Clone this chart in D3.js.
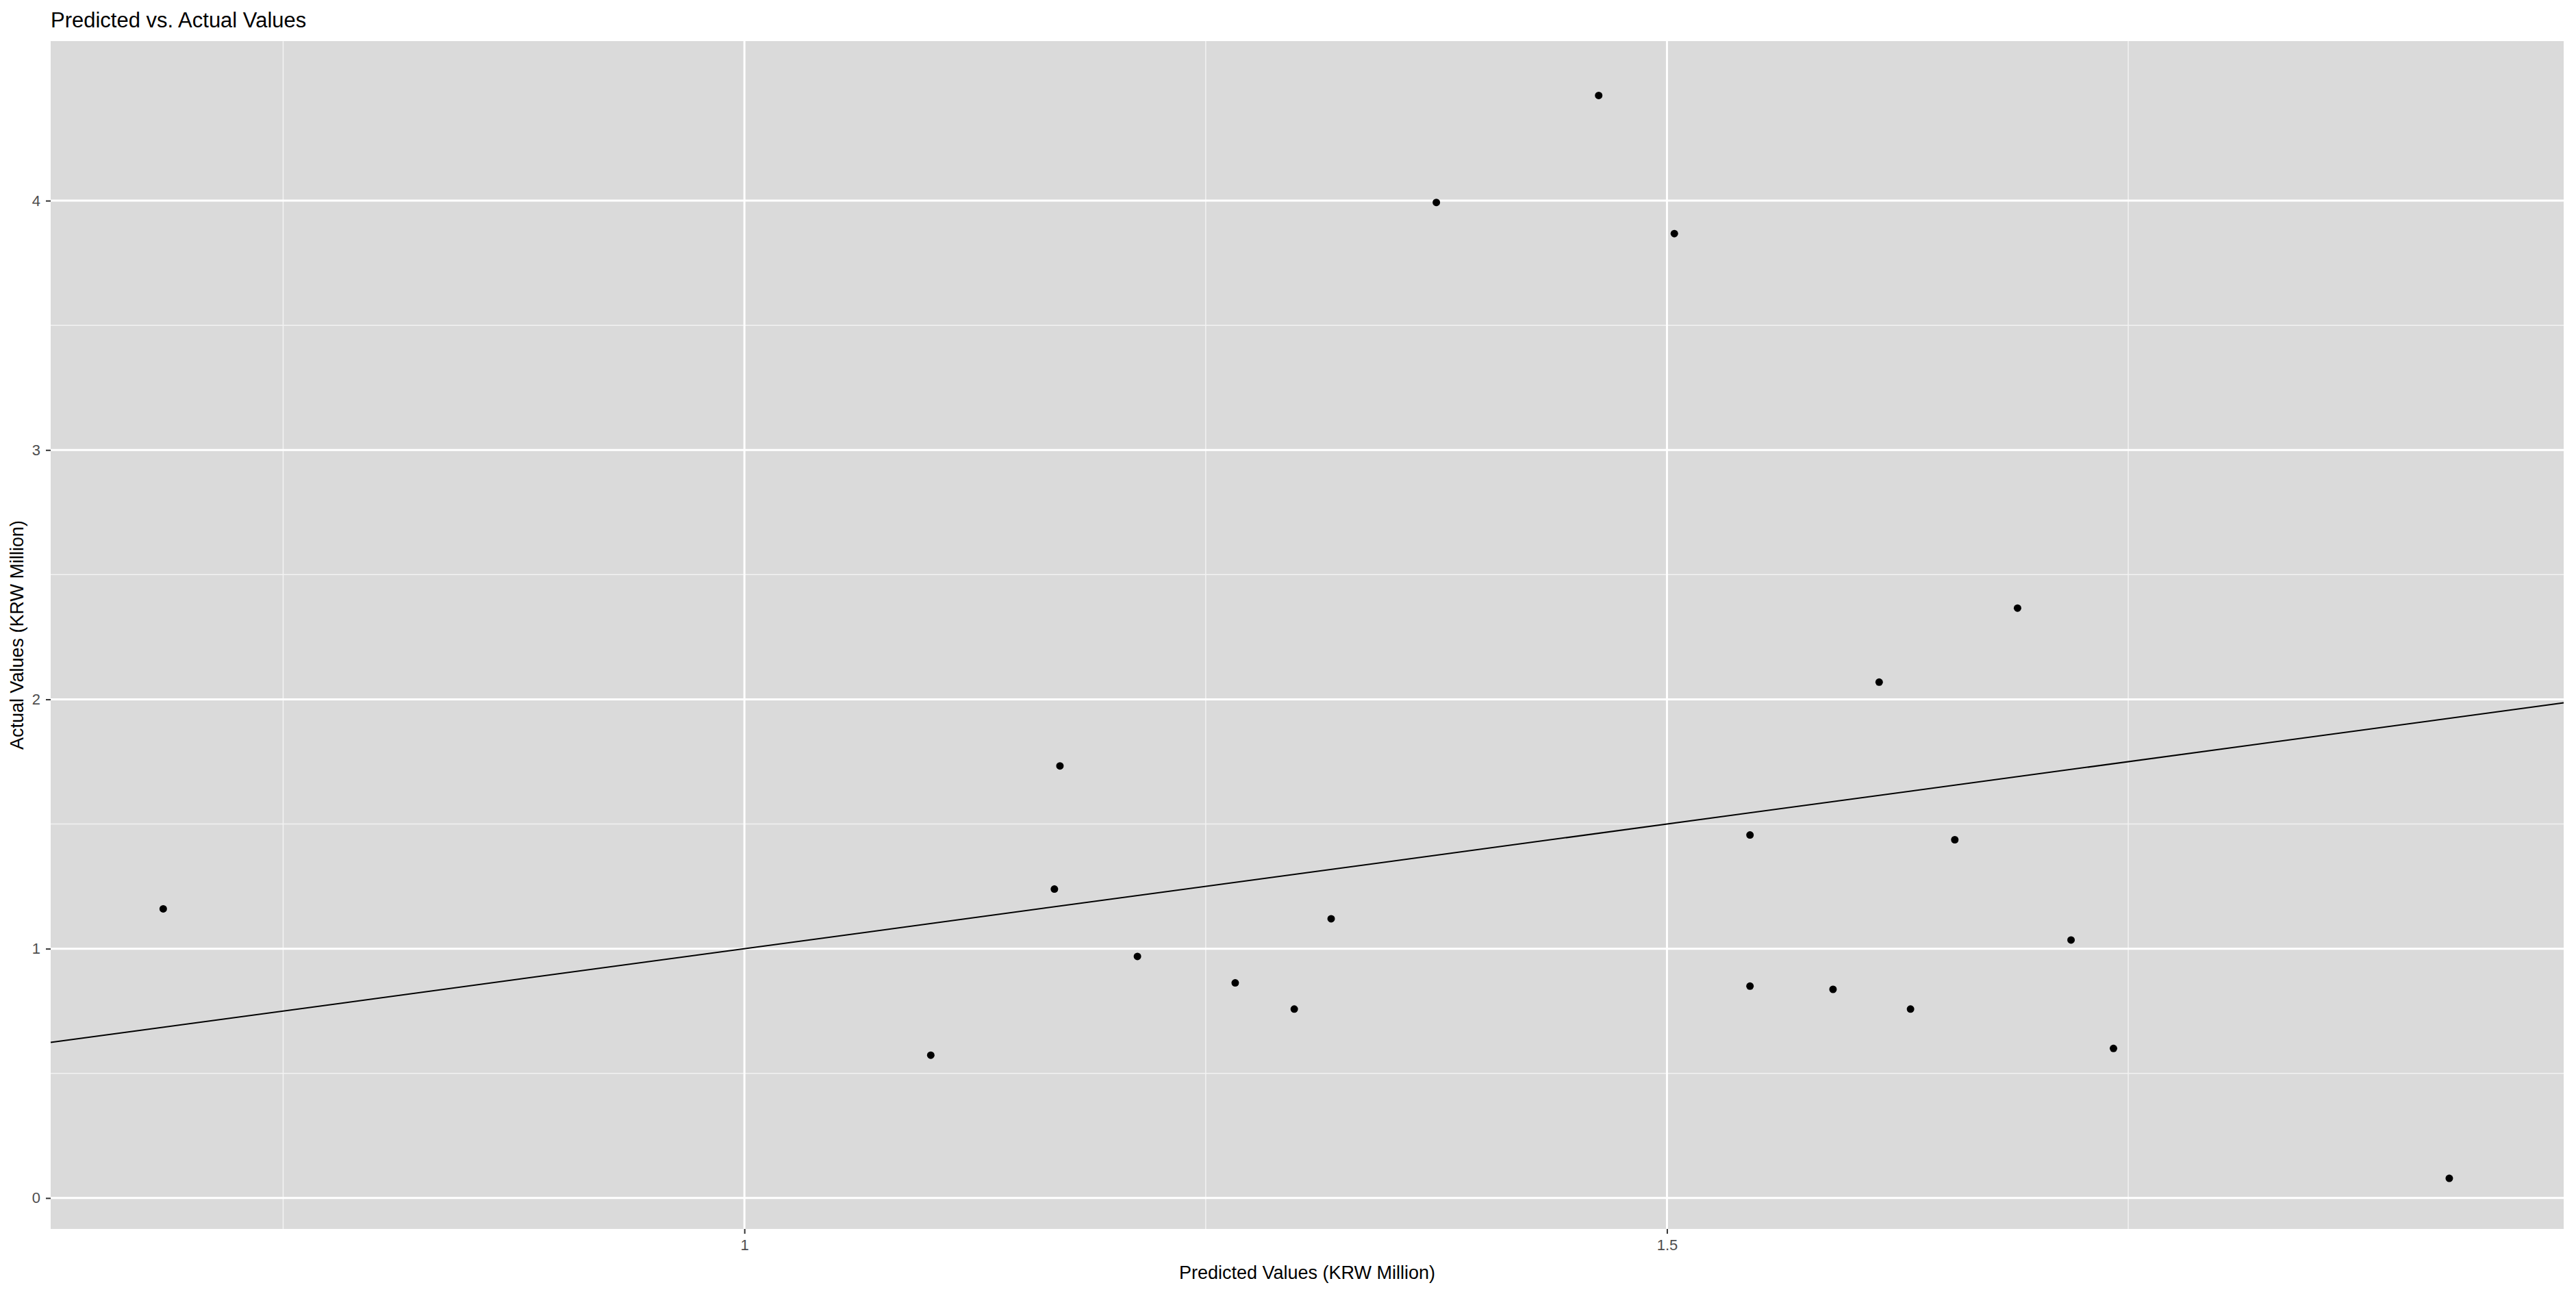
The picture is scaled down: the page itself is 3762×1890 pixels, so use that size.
<!DOCTYPE html>
<html><head><meta charset="utf-8">
<script src="https://cdn.jsdelivr.net/npm/d3@7"></script>
<style>body{margin:0;background:#fff}</style></head>
<body><svg id="c" width="3762" height="1890"></svg>
<script>
const predicted = [0.685,1.101,1.168,1.171,1.213,1.266,1.298,1.318,1.375,1.463,1.504,1.545,1.545,1.590,1.615,1.632,1.656,1.690,1.719,1.742,1.924];
const actual    = [1.16,0.573,1.239,1.733,0.969,0.863,0.758,1.120,3.993,4.422,3.868,1.456,0.850,0.837,2.069,0.758,1.437,2.366,1.035,0.600,0.079];
const xTicks = [1, 1.5];
const yTicks = [0,1,2,3,4];
const xMinor = [0.75,1.25,1.75];
const yMinor = [0.5,1.5,2.5,3.5];

const svg = d3.select("#c");
const L=74,R=3744,T=60,B=1795;
const x = d3.scaleLinear().domain([0.624,1.986]).range([L,R]);
const y = d3.scaleLinear().domain([-0.124,4.64]).range([B,T]);
const font="Liberation Sans, Arial, sans-serif";

svg.append("rect").attr("x",L).attr("y",T).attr("width",R-L).attr("height",B-T).attr("fill","#dadada");
const g=svg.append("g");
xMinor.forEach(v=>g.append("line").attr("x1",x(v)).attr("x2",x(v)).attr("y1",T).attr("y2",B).attr("stroke","#f2f2f2").attr("stroke-width",1.5));
yMinor.forEach(v=>g.append("line").attr("y1",y(v)).attr("y2",y(v)).attr("x1",L).attr("x2",R).attr("stroke","#f2f2f2").attr("stroke-width",1.5));
xTicks.forEach(v=>g.append("line").attr("x1",x(v)).attr("x2",x(v)).attr("y1",T).attr("y2",B).attr("stroke","#fff").attr("stroke-width",3));
yTicks.forEach(v=>g.append("line").attr("y1",y(v)).attr("y2",y(v)).attr("x1",L).attr("x2",R).attr("stroke","#fff").attr("stroke-width",3));

// y = x reference line
svg.append("line").attr("x1",x(0.624)).attr("y1",y(0.624)).attr("x2",x(1.986)).attr("y2",y(1.986))
  .attr("stroke","#000").attr("stroke-width",2);

svg.selectAll("circle.p").data(predicted).enter().append("circle")
  .attr("cx",d=>x(d)).attr("cy",(d,i)=>y(actual[i])).attr("r",5.5).attr("fill","#000");

const xa=svg.append("g").attr("transform",`translate(0,${B})`).call(d3.axisBottom(x).tickValues(xTicks).tickFormat(d3.format("")).tickSize(7).tickPadding(8));
const ya=svg.append("g").attr("transform",`translate(${L},0)`).call(d3.axisLeft(y).tickValues(yTicks).tickFormat(d3.format("")).tickSize(7).tickPadding(8));
[xa,ya].forEach(a=>{a.select(".domain").remove();a.selectAll("line").attr("stroke","#333").attr("stroke-width",2);
  a.selectAll("text").attr("font-family",font).attr("font-size",22).attr("fill","#4d4d4d");});

svg.append("text").attr("x",74).attr("y",40).attr("font-family",font).attr("font-size",31).attr("fill","#000").text("Predicted vs. Actual Values");
svg.append("text").attr("x",(L+R)/2).attr("y",1868).attr("text-anchor","middle").attr("font-family",font).attr("font-size",27).attr("fill","#000").text("Predicted Values (KRW Million)");
svg.append("text").attr("transform",`translate(34,${(T+B)/2}) rotate(-90)`).attr("text-anchor","middle").attr("font-family",font).attr("font-size",27).attr("fill","#000").text("Actual Values (KRW Million)");
</script></body></html>
